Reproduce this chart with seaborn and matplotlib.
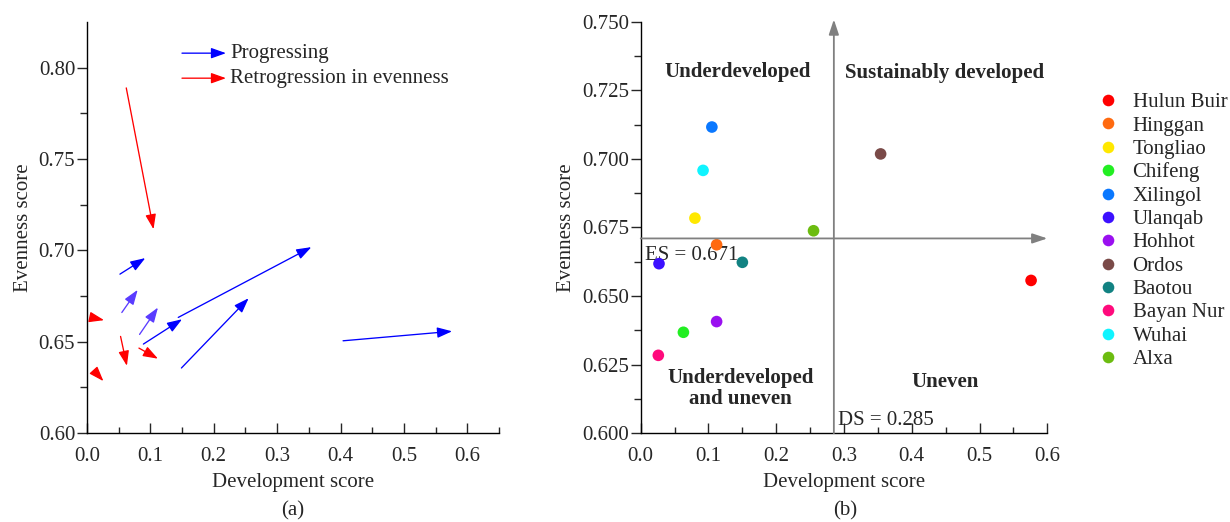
import matplotlib
matplotlib.use("Agg")
import matplotlib.pyplot as plt
import seaborn as sns
import pandas as pd

# ---- data ----------------------------------------------------------------
cities = ["Hulun Buir", "Hinggan", "Tongliao", "Chifeng", "Xilingol", "Ulanqab",
          "Hohhot", "Ordos", "Baotou", "Bayan Nur", "Wuhai", "Alxa"]
city_colors = ["#ff0000", "#ff6a10", "#ffe800", "#22ee22", "#0a78ff", "#3c10ff",
               "#9a10f0", "#7a4a48", "#128282", "#ff0a7c", "#10f4ff", "#6cbc10"]

# current position (development score, evenness score)
dev_now = [0.576, 0.112, 0.080, 0.063, 0.105, 0.027,
           0.112, 0.354, 0.150, 0.026, 0.092, 0.255]
even_now = [0.6557, 0.6687, 0.6784, 0.6368, 0.7116, 0.6618,
            0.6407, 0.7018, 0.6623, 0.6284, 0.6958, 0.6738]

# earlier position of each city (start of its trajectory)
dev_prev = [0.404, 0.083, 0.055, 0.053, 0.062, 0.011,
            0.082, 0.144, 0.089, 0.014, 0.052, 0.149]
even_prev = [0.6505, 0.6540, 0.6660, 0.6529, 0.7890, 0.6630,
             0.6465, 0.6633, 0.6487, 0.6330, 0.6870, 0.6356]
trend = ["Progressing", "Progressing", "Progressing", "Retrogression in evenness",
         "Retrogression in evenness", "Retrogression in evenness",
         "Retrogression in evenness", "Progressing", "Progressing",
         "Retrogression in evenness", "Progressing", "Progressing"]
arrow_colors = ["#0000ff", "#5a3cff", "#5a3cff", "#ff0000", "#ff0000", "#ff0000",
                "#ff0000", "#0000ff", "#0000ff", "#ff0000", "#0000ff", "#0000ff"]

ds_threshold = 0.285
es_threshold = 0.671

df = pd.DataFrame({"city": cities, "ds": dev_now, "es": even_now,
                   "ds0": dev_prev, "es0": even_prev, "trend": trend,
                   "acolor": arrow_colors})

# ---- style ---------------------------------------------------------------
sns.set_theme(style="ticks")
plt.rcParams["font.family"] = ["Liberation Serif", "DejaVu Serif"]
plt.rcParams.update({
    "font.size": 15,
    "axes.linewidth": 1.0,
    "axes.edgecolor": "black",
    "xtick.direction": "in",
    "ytick.direction": "out",
    "xtick.major.size": 7, "ytick.major.size": 7,
    "xtick.minor.size": 4, "ytick.minor.size": 5,
    "xtick.major.width": 1.0, "ytick.major.width": 1.0,
    "xtick.minor.width": 1.0, "ytick.minor.width": 1.0,
    "xtick.major.pad": 10, "ytick.major.pad": 1.5,
    "xtick.labelsize": 15, "ytick.labelsize": 15,
    "axes.labelsize": 15,
})

fig = plt.figure(figsize=(12.3, 5.22), dpi=100)
ax1 = fig.add_axes([0.0707, 0.1705, 0.335, 0.787])
ax2 = fig.add_axes([0.5209, 0.170, 0.3306, 0.7885])

for ax in (ax1, ax2):
    sns.despine(ax=ax)

# ---- (a) trajectories ----------------------------------------------------
ax1.set_xlim(0, 0.65)
ax1.set_ylim(0.60, 0.825)
ax1.set_xticks([0.0, 0.1, 0.2, 0.3, 0.4, 0.5, 0.6])
ax1.set_xticks([0.05, 0.15, 0.25, 0.35, 0.45, 0.55, 0.65], minor=True)
ax1.set_yticks([0.60, 0.65, 0.70, 0.75, 0.80])
ax1.set_yticks([0.625, 0.675, 0.725, 0.775], minor=True)
ax1.set_xticklabels(["0.0", "0.1", "0.2", "0.3", "0.4", "0.5", "0.6"])
ax1.set_yticklabels(["0.60", "0.65", "0.70", "0.75", "0.80"])

arrow_style = "-|>,head_length=0.9,head_width=0.32"
for _, r in df.iterrows():
    ax1.annotate("", xy=(r.ds, r.es), xytext=(r.ds0, r.es0),
                 arrowprops=dict(arrowstyle=arrow_style, color=r.acolor,
                                 lw=0.95, shrinkA=0, shrinkB=0,
                                 mutation_scale=10))

# key for the two trajectory types
key_items = [("Progressing", "#0000ff", 0.9246),
             ("Retrogression in evenness", "#ff0000", 0.8637)]
for label, col, yk in key_items:
    ax1.annotate("", xy=(0.3374, yk), xytext=(0.2306, yk),
                 xycoords="axes fraction", textcoords="axes fraction",
                 arrowprops=dict(arrowstyle=arrow_style, color=col, lw=0.95,
                                 shrinkA=0, shrinkB=0, mutation_scale=10))
    ax1.text(0.347, yk, label, transform=ax1.transAxes, ha="left",
             va="center", fontsize=15)

ax1.set_xlabel("Development score", labelpad=5)
ax1.set_ylabel("Evenness score")

# ---- (b) quadrant classification -----------------------------------------
sns.scatterplot(data=df, x="ds", y="es", hue="city", hue_order=cities,
                palette=city_colors, s=70, linewidth=0, ax=ax2, zorder=3)

ax2.set_xlim(0, 0.6)
ax2.set_ylim(0.600, 0.750)
ax2.set_xticks([0.0, 0.1, 0.2, 0.3, 0.4, 0.5, 0.6])
ax2.set_xticks([0.05, 0.15, 0.25, 0.35, 0.45, 0.55], minor=True)
ax2.set_yticks([0.600, 0.625, 0.650, 0.675, 0.700, 0.725, 0.750])
ax2.set_yticks([0.6125, 0.6375, 0.6625, 0.6875, 0.7125, 0.7375], minor=True)
ax2.set_xticklabels(["0.0", "0.1", "0.2", "0.3", "0.4", "0.5", "0.6"])
ax2.set_yticklabels(["0.600", "0.625", "0.650", "0.675", "0.700", "0.725", "0.750"])

gray_style = "-|>,head_length=0.9,head_width=0.3"
ax2.annotate("", xy=(ds_threshold, 0.7508), xytext=(ds_threshold, 0.600),
             annotation_clip=False,
             arrowprops=dict(arrowstyle=gray_style, color="#808080", lw=1.3,
                             shrinkA=0, shrinkB=0, mutation_scale=10))
ax2.annotate("", xy=(0.6, es_threshold), xytext=(0.0, es_threshold),
             annotation_clip=False,
             arrowprops=dict(arrowstyle=gray_style, color="#808080", lw=1.3,
                             shrinkA=0, shrinkB=0, mutation_scale=10))

ax2.text(0.0064, es_threshold - 0.0062, f"ES = {es_threshold:.3f}",
         ha="left", va="center", fontsize=15, zorder=2)
ax2.text(ds_threshold + 0.006, 0.6046, f"DS = {ds_threshold:.3f}",
         ha="left", va="center", fontsize=15)

ax2.text(0.143, 0.7318, "Underdeveloped", ha="center", va="center",
         fontsize=15, fontweight="bold")
ax2.text(0.448, 0.7314, "Sustainably developed", ha="center", va="center",
         fontsize=15, fontweight="bold")
ax2.text(0.1476, 0.6164, "Underdeveloped\nand uneven", ha="center",
         va="center", fontsize=15, fontweight="bold", linespacing=1.05)
ax2.text(0.449, 0.6186, "Uneven", ha="center", va="center",
         fontsize=15, fontweight="bold")

ax2.set_xlabel("Development score", labelpad=5)
ax2.set_ylabel("Evenness score")

sns.move_legend(ax2, "upper left", bbox_to_anchor=(1.097, 0.853),
                frameon=False, title=None, borderpad=0, handlelength=1.0,
                handletextpad=0.7, labelspacing=0.18, fontsize=15,
                markerscale=1.0)

fig.text(293 / 1230, 0.022, "(a)", ha="center", va="center", fontsize=15)
fig.text(845 / 1230, 0.022, "(b)", ha="center", va="center", fontsize=15)

fig.savefig("out.png", dpi=100)
